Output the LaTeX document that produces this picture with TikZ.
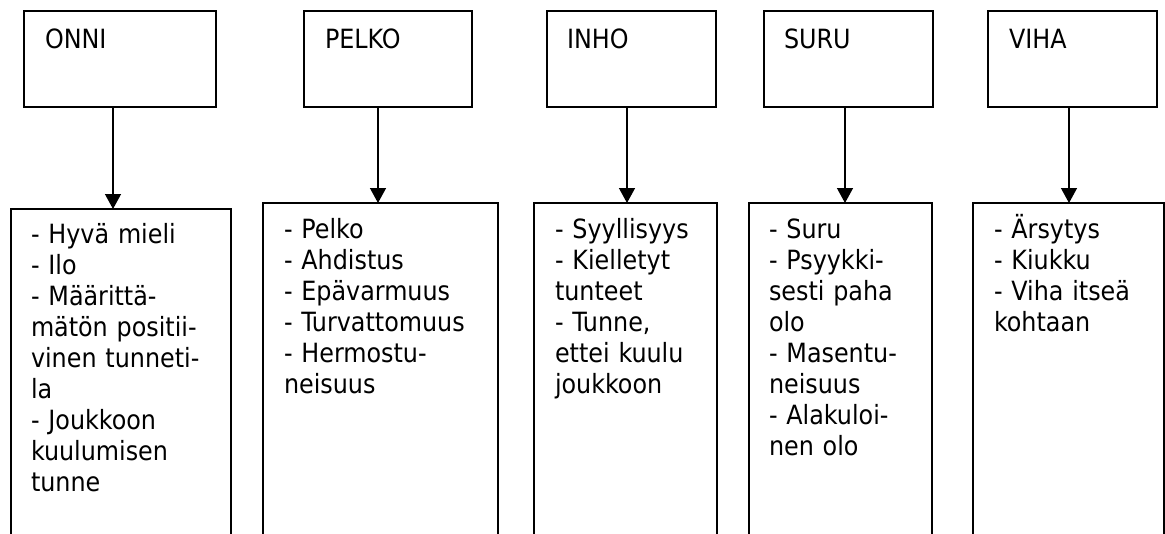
\documentclass[tikz,border=0pt]{standalone}
\usepackage{fontspec}
\setmainfont{DejaVu Sans Condensed}
\usetikzlibrary{arrows.meta}
\begin{document}
\begin{tikzpicture}[x=1pt,y=-1pt,
  box/.style={draw, line width=1.4pt, inner sep=0pt, outer sep=0pt, anchor=north west},
  headbox/.style={box, minimum height=96pt},
  listbox/.style={box, minimum height=420pt},
  lbl/.style={anchor=base west, inner sep=0pt, outer sep=0pt, font=\fontsize{26.5}{31}\selectfont},
  txt/.style={anchor=base west, inner sep=0pt, outer sep=0pt, align=left, text width=300pt, font=\fontsize{26.5}{31}\selectfont},
  arr/.style={line width=1.4pt, -{Triangle[length=15pt,width=16pt]}}]
\useasboundingbox (0,0) rectangle (1165,533);
\clip (0,0) rectangle (1165,533);
\fill[white] (0,0) rectangle (1165,533);

% head boxes
\node[headbox, minimum width=192pt] (onniT) at (24,11) {};
\node[headbox, minimum width=168pt] (pelkoT) at (304,11) {};
\node[headbox, minimum width=169pt] (inhoT) at (547,11) {};
\node[headbox, minimum width=169pt] (suruT) at (764,11) {};
\node[headbox, minimum width=169pt] (vihaT) at (988,11) {};

\node[lbl] (onniL) at (45,48) {ONNI};
\node[lbl] (pelkoL) at (325,48) {PELKO};
\node[lbl] (inhoL) at (567,48) {INHO};
\node[lbl] (suruL) at (784,48) {SURU};
\node[lbl] (vihaL) at (1009,48) {VIHA};

% list boxes
\node[listbox, minimum width=220pt] (onniB) at (11,209) {};
\node[listbox, minimum width=235pt] (pelkoB) at (263,203) {};
\node[listbox, minimum width=183pt] (inhoB) at (534,203) {};
\node[listbox, minimum width=183pt] (suruB) at (749,203) {};
\node[listbox, minimum width=191pt] (vihaB) at (973,203) {};

\node[txt] (onniX) at (31,243) {- Hyvä mieli\\- Ilo\\- Määrittä-\\mätön positii-\\vinen tunneti-\\la\\- Joukkoon\\kuulumisen\\tunne};
\node[txt] (pelkoX) at (284,238) {- Pelko\\- Ahdistus\\- Epävarmuus\\- Turvattomuus\\- Hermostu-\\neisuus};
\node[txt] (inhoX) at (555,238) {- Syyllisyys\\- Kielletyt\\tunteet\\- Tunne,\\ettei kuulu\\joukkoon};
\node[txt] (suruX) at (769,238) {- Suru\\- Psyykki-\\sesti paha\\olo\\- Masentu-\\neisuus\\- Alakuloi-\\nen olo};
\node[txt] (vihaX) at (994,238) {- Ärsytys\\- Kiukku\\- Viha itseä\\kohtaan};

% arrow columns
\coordinate (onniC) at (113,0);
\coordinate (pelkoC) at (378,0);
\coordinate (inhoC) at (627,0);
\coordinate (suruC) at (845,0);
\coordinate (vihaC) at (1069,0);

\draw[arr] (onniT.south -| onniC) -- (onniB.north -| onniC);
\draw[arr] (pelkoT.south -| pelkoC) -- (pelkoB.north -| pelkoC);
\draw[arr] (inhoT.south -| inhoC) -- (inhoB.north -| inhoC);
\draw[arr] (suruT.south -| suruC) -- (suruB.north -| suruC);
\draw[arr] (vihaT.south -| vihaC) -- (vihaB.north -| vihaC);
\end{tikzpicture}
\end{document}
